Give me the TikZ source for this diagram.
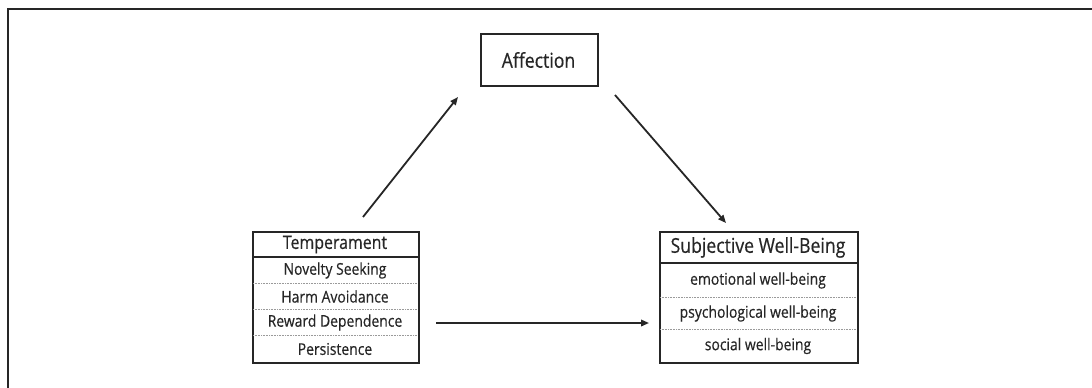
\documentclass[tikz,border=0pt]{standalone}
\usepackage{fontspec}
\setmainfont[FakeStretch=0.86,FakeBold=0.4]{Open Sans}
\usetikzlibrary{arrows.meta}
\definecolor{ink}{HTML}{262626}
\definecolor{sepgray}{HTML}{9A9A9A}
\tikzset{
  frameline/.style={draw=ink, line width=2pt},
  tbl/.style={draw=ink, line width=1.7pt, fill=white, inner sep=0pt, anchor=north west},
  hdrtext/.style={text=ink, font=\fontsize{18.5}{21}\selectfont, inner sep=0pt},
  bigtext/.style={text=ink, font=\fontsize{20.5}{23}\selectfont, inner sep=0pt},
  rowtext/.style={text=ink, font=\fontsize{16.2}{19}\selectfont, inner sep=0pt},
  headline/.style={draw=ink, line width=1.2pt},
  sepline/.style={draw=sepgray, line width=0.8pt, dash pattern=on 1pt off 0.6pt},
  conn/.style={draw=ink, line width=1.8pt, -{Triangle[length=8pt,width=6.5pt]}}
}
\begin{document}
\begin{tikzpicture}[x=1pt,y=-1pt]
\useasboundingbox (0,0) rectangle (1092,388);
\fill[white] (0,0) rectangle (1092,388);
\draw[frameline] (7.5,388) |- (1092,9);

% Affection
\node[tbl, minimum width=117, minimum height=52] (aff) at (480,33) {};
\node[bigtext] (afft) at (538.5,60) {Affection};

% Temperament
\node[tbl, minimum width=166, minimum height=131] (temp) at (252,231) {};
\draw[headline] (252,257) -- (418,257);
\draw[sepline] (253,283) -- (417,283);
\draw[sepline] (253,309) -- (417,309);
\draw[sepline] (253,335) -- (417,335);
\node[hdrtext] (t0) at (335,244.5) {Temperament};
\node[rowtext] (t1) at (335,270.5) {Novelty Seeking};
\node[rowtext] (t2) at (335,296.5) {Harm Avoidance};
\node[rowtext] (t3) at (335,322.5) {Reward Dependence};
\node[rowtext] (t4) at (335,349) {Persistence};

% Subjective Well-Being
\node[tbl, minimum width=198, minimum height=131] (swb) at (659,231) {};
\draw[headline] (659,263) -- (857,263);
\draw[sepline] (660,297) -- (856,297);
\draw[sepline] (660,329) -- (856,329);
\node[bigtext] (s0) at (758,247.5) {Subjective Well-Being};
\node[rowtext] (s1) at (758,280.5) {emotional well-being};
\node[rowtext] (s2) at (758,313.5) {psychological well-being};
\node[rowtext] (s3) at (758,346) {social well-being};

% connectors
\coordinate (a1s) at (363,217);
\coordinate (a1e) at (458,97);
\coordinate (a2s) at (615,95);
\coordinate (a2e) at (726,223);
\coordinate (a3s) at (436,323);
\coordinate (a3e) at (649,323);
\draw[conn] (a1s) -- (a1e);
\draw[conn] (a2s) -- (a2e);
\draw[conn] (a3s) -- (a3e);
\end{tikzpicture}
\end{document}
